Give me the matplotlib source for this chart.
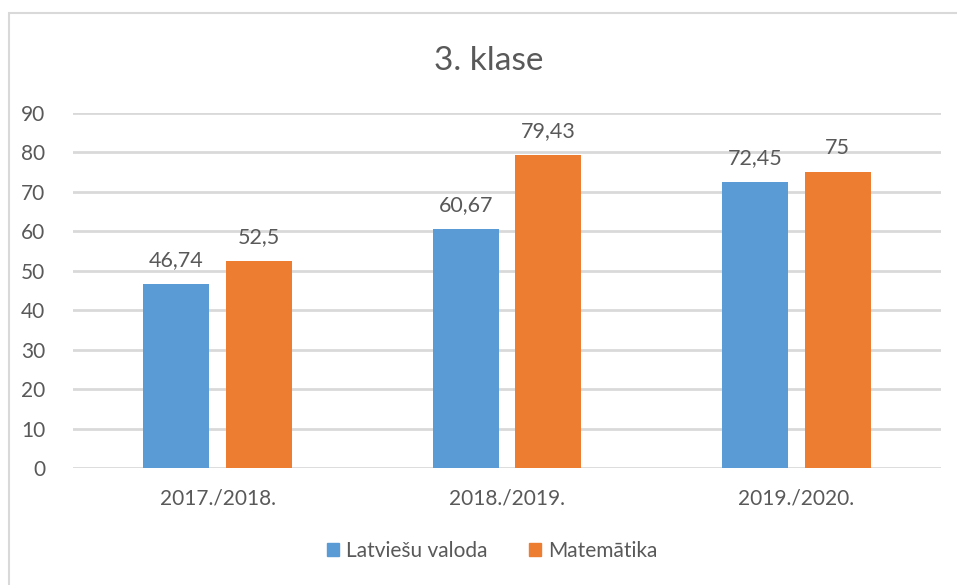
import matplotlib
matplotlib.use("Agg")
import matplotlib.pyplot as plt
from matplotlib.patches import Rectangle, Patch
import numpy as np

plt.rcParams['font.family'] = ['Lato', 'DejaVu Sans']

categories = ["2017./2018.", "2018./2019.", "2019./2020."]
series_names = ["Latviešu valoda", "Matemātika"]
latviesu = [46.74, 60.67, 72.45]
matematika = [52.5, 79.43, 75]
label_latviesu = ["46,74", "60,67", "72,45"]
label_matematika = ["52,5", "79,43", "75"]
yticks = list(range(0, 100, 10))

blue = "#5B9BD5"
orange = "#ED7D31"
text_col = "#595959"
grid_col = "#D9D9D9"

W, H = 957, 585
fig = plt.figure(figsize=(W / 100, H / 100), dpi=100)

# chart border
fig.patches.append(Rectangle((9 / W, -0.1), 1.2, 1 - 13 / H + 0.1,
                             transform=fig.transFigure, fill=False,
                             edgecolor=grid_col, linewidth=1.5))

left, right = 73 / W, 941 / W
bottom, top = 1 - 468 / H, 1 - 113 / H
ax = fig.add_axes([left, bottom, right - left, top - bottom])

x = np.arange(len(categories))
bw = 0.228
off = 0.143
b1 = ax.bar(x - off, latviesu, bw, color=blue, zorder=3)
b2 = ax.bar(x + off, matematika, bw, color=orange, zorder=3)

for bars, labels in ((b1, label_latviesu), (b2, label_matematika)):
    for rect, lab in zip(bars, labels):
        ax.annotate(lab, (rect.get_x() + rect.get_width() / 2, rect.get_height()),
                    xytext=(0, 10), textcoords="offset points",
                    ha="center", va="bottom", fontsize=15.5, color=text_col)

ax.set_xlim(-0.5, 2.5)
ax.set_ylim(0, 90)
ax.set_yticks(yticks)
ax.set_yticklabels([str(v) for v in yticks])
ax.set_xticks(x)
ax.set_xticklabels(categories)
ax.tick_params(axis="both", length=0, labelsize=15, colors=text_col)
ax.tick_params(axis="y", pad=20)
ax.tick_params(axis="x", pad=15)
for s in ax.spines.values():
    s.set_visible(False)
ax.grid(axis="y", color=grid_col, linewidth=2, zorder=0)
ax.set_axisbelow(True)

fig.text(489 / W, 1 - 61 / H, "3. klase", ha="center", va="center",
         fontsize=24, color=text_col)

handles = [Patch(color=blue), Patch(color=orange)]
fig.legend(handles, series_names, loc="center", bbox_to_anchor=(492 / W, 1 - 551 / H),
           ncol=2, frameon=False, fontsize=15, labelcolor=text_col,
           handlelength=0.6, handleheight=0.6, handletextpad=0.3, columnspacing=2.0)

fig.savefig("out.png", dpi=100)
